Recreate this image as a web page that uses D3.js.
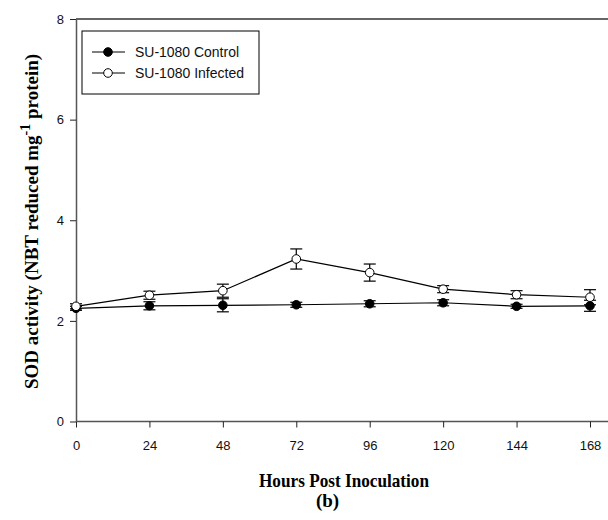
<!DOCTYPE html>
<html><head><meta charset="utf-8">
<script src="https://cdn.jsdelivr.net/npm/d3@7/dist/d3.min.js"></script>
<style>body{margin:0;background:#fff}svg{display:block}</style>
</head><body>
<svg id="c" width="608" height="520"></svg>
<script>
const hours = [0, 24, 48, 72, 96, 120, 144, 168];
const controlMean = [2.25, 2.30, 2.31, 2.32, 2.34, 2.36, 2.29, 2.30];
const controlErr  = [0.04, 0.08, 0.13, 0.05, 0.06, 0.06, 0.04, 0.11];
const infectedMean = [2.29, 2.51, 2.60, 3.23, 2.96, 2.63, 2.52, 2.47];
const infectedErr  = [0.05, 0.08, 0.13, 0.20, 0.17, 0.07, 0.08, 0.15];
const yTicks = [0, 2, 4, 6, 8];
const seriesNames = ["SU-1080 Control", "SU-1080 Infected"];

const svg = d3.select("#c");
const x = d3.scaleLinear().domain([0, 168]).range([76, 590]);
const y = d3.scaleLinear().domain([0, 8]).range([421.5, 19]);

svg.append("line").attr("x1", 76).attr("x2", 608).attr("y1", 19).attr("y2", 19)
  .attr("stroke", "#333").attr("stroke-width", 1.5);

const xAxis = svg.append("g").attr("transform", "translate(0,421.5)")
  .call(d3.axisBottom(x).tickValues(hours).tickSize(6).tickSizeOuter(0).tickPadding(13.5));
xAxis.select(".domain").attr("d", "M76,0H608");
const yAxis = svg.append("g").attr("transform", "translate(76,0)")
  .call(d3.axisLeft(y).tickValues(yTicks).tickSize(6).tickSizeOuter(0).tickPadding(6));
[xAxis, yAxis].forEach(g => {
  g.select(".domain").attr("stroke", "#555").attr("stroke-width", 1.5);
  g.selectAll(".tick line").attr("stroke", "#222");
  g.selectAll("text").attr("font-family", "Liberation Sans, Arial, sans-serif")
    .attr("font-size", 13).attr("fill", "#111");
});

function drawSeries(means, errs, fill) {
  const data = hours.map((h, i) => ({h, m: means[i], e: errs[i]}));
  svg.append("path").datum(data)
    .attr("d", d3.line().x(d => x(d.h)).y(d => y(d.m)))
    .attr("fill", "none").attr("stroke", "#000").attr("stroke-width", 1.2);
  const eb = svg.append("g").selectAll("g").data(data).join("g");
  eb.append("line").attr("x1", d => x(d.h)).attr("x2", d => x(d.h))
    .attr("y1", d => y(d.m - d.e)).attr("y2", d => y(d.m + d.e))
    .attr("stroke", "#000").attr("stroke-width", 1.2);
  [-1, 1].forEach(s => {
    eb.append("line").attr("x1", d => x(d.h) - 6).attr("x2", d => x(d.h) + 6)
      .attr("y1", d => y(d.m + s * d.e)).attr("y2", d => y(d.m + s * d.e))
      .attr("stroke", "#000").attr("stroke-width", 1.2);
  });
  svg.append("g").selectAll("circle").data(data).join("circle")
    .attr("cx", d => x(d.h)).attr("cy", d => y(d.m)).attr("r", 4.3)
    .attr("fill", fill).attr("stroke", "#000").attr("stroke-width", 1);
}
drawSeries(controlMean, controlErr, "#000");
drawSeries(infectedMean, infectedErr, "#fff");

const lg = svg.append("g");
lg.append("rect").attr("x", 82).attr("y", 31).attr("width", 177).attr("height", 63)
  .attr("fill", "#fff").attr("stroke", "#000").attr("stroke-width", 1);
const legendWidths = [104, 109];
seriesNames.forEach((name, i) => {
  const ly = 52 + i * 21;
  lg.append("line").attr("x1", 92).attr("x2", 125).attr("y1", ly).attr("y2", ly)
    .attr("stroke", "#000").attr("stroke-width", 1.2);
  lg.append("circle").attr("cx", 108).attr("cy", ly).attr("r", 4.3)
    .attr("fill", i === 0 ? "#000" : "#fff").attr("stroke", "#000");
  lg.append("text").attr("x", 135).attr("y", ly).attr("dy", "0.36em")
    .attr("font-family", "Liberation Sans, Arial, sans-serif").attr("font-size", 14)
    .attr("textLength", legendWidths[i]).attr("lengthAdjust", "spacingAndGlyphs")
    .attr("fill", "#111").text(name);
});

svg.append("text").attr("x", 344).attr("y", 487).attr("text-anchor", "middle")
  .attr("font-family", "Liberation Serif, Times New Roman, serif").attr("font-weight", "bold")
  .attr("font-size", 19).attr("textLength", 170).attr("lengthAdjust", "spacingAndGlyphs")
  .text("Hours Post Inoculation");
svg.append("text").attr("x", 327.5).attr("y", 507).attr("text-anchor", "middle")
  .attr("font-family", "Liberation Serif, Times New Roman, serif").attr("font-weight", "bold")
  .attr("font-size", 19).text("(b)");
const yt = svg.append("text").attr("transform", "translate(38,221.5) rotate(-90)")
  .attr("text-anchor", "middle")
  .attr("font-family", "Liberation Serif, Times New Roman, serif").attr("font-weight", "bold")
  .attr("font-size", 19);
yt.append("tspan").text("SOD activity (NBT reduced mg");
yt.append("tspan").attr("dy", -8).attr("font-size", 14).text("-1");
yt.append("tspan").attr("dy", 8).text(" protein)");
</script>
</body></html>
